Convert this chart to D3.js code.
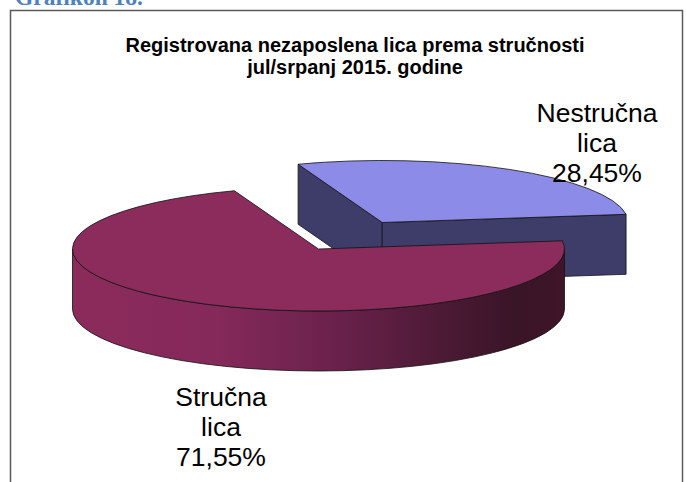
<!DOCTYPE html>
<html>

<head>
    <meta charset="utf-8">
    <title>Grafikon 18</title>

    <style>
        html,
        body {
            margin: 0;
            padding: 0;
            background-color: #ffffff;
            overflow: hidden;
        }
    </style>
</head>

<body>
    <div id="container"></div>

    <script src="https://d3js.org/d3.v7.min.js"></script>

    <script>
        // values
        var categories = ["Nestručna lica", "Stručna lica"];
        var shares = [28.45, 71.55];
        var shareLabels = ["28,45%", "71,55%"];
        var titleLines = ["Registrovana nezaposlena lica prema stručnosti", "jul/srpanj 2015. godine"];

        var width = 686, height = 482;

        // 3d pie geometry
        var cx = 318.5, cy = 249;
        var rx = 246, ry = 62, depth = 60;
        var explode = 0.5;
        var rotation = -20 * Math.PI / 180;

        var topColors = ["#8c8ce8", "#8c2c5c"];
        var sideColors = ["#3e3d69", "url(#magSide)"];

        var svg = d3.select("div#container")
            .append("svg")
            .attr("width", width)
            .attr("height", height)
            .style("display", "block")
            .style("font-family", "'Liberation Sans', Arial, sans-serif");

        var defs = svg.append("defs");
        var grad = defs.append("linearGradient")
            .attr("id", "magSide")
            .attr("gradientUnits", "userSpaceOnUse")
            .attr("x1", cx - rx).attr("y1", 0)
            .attr("x2", cx + rx).attr("y2", 0);
        [[0, "#8b2b5b"], [0.3, "#84295a"], [0.55, "#68214a"], [0.75, "#4c1a35"], [0.9, "#3a1427"], [1, "#3e1529"]]
            .forEach(function (s) {
                grad.append("stop").attr("offset", s[0]).attr("stop-color", s[1]);
            });

        // heading above the frame (cut off at the top in the original too)
        svg.append("text")
            .attr("x", 15)
            .attr("y", 5)
            .attr("font-family", "'Liberation Serif', 'DejaVu Serif', serif")
            .attr("font-weight", "bold")
            .attr("font-size", 23.5)
            .attr("fill", "#4f81bd")
            .text("Grafikon 18.");

        // frame
        svg.append("rect")
            .attr("x", 10.5)
            .attr("y", 10.5)
            .attr("width", 672)
            .attr("height", 500)
            .attr("fill", "none")
            .attr("stroke", "#5a5a5a")
            .attr("stroke-width", 1.5);

        svg.append("g")
            .selectAll("text")
            .data(titleLines)
            .enter().append("text")
            .attr("x", 355)
            .attr("y", function (d, i) { return 52 + i * 22; })
            .attr("text-anchor", "middle")
            .attr("font-weight", "bold")
            .attr("font-size", 20)
            .attr("fill", "#000")
            .text(function (d) { return d; });

        var pie = d3.pie()
            .sort(null)
            .startAngle(rotation)
            .endAngle(rotation + 2 * Math.PI);

        var arcs = pie(shares);

        function pt(ox, oy, a, dy) {
            return [ox + rx * Math.sin(a), oy - ry * Math.cos(a) + (dy || 0)];
        }

        function topPath(ox, oy, a0, a1) {
            var p0 = pt(ox, oy, a0), p1 = pt(ox, oy, a1);
            var large = (a1 - a0) > Math.PI ? 1 : 0;
            return "M" + ox + "," + oy + "L" + p0 + "A" + rx + "," + ry + " 0 " + large + " 1 " + p1 + "Z";
        }

        function radialPath(ox, oy, a) {
            var p = pt(ox, oy, a), q = pt(ox, oy, a, depth);
            return "M" + ox + "," + oy + "L" + p + "L" + q + "L" + ox + "," + (oy + depth) + "Z";
        }

        function curvedPath(ox, oy, a0, a1) {
            var s = Math.max(a0, Math.PI / 2), e = Math.min(a1, 3 * Math.PI / 2);
            if (e <= s) return null;
            var p0 = pt(ox, oy, s), p1 = pt(ox, oy, e);
            var q0 = pt(ox, oy, s, depth), q1 = pt(ox, oy, e, depth);
            var large = (e - s) > Math.PI ? 1 : 0;
            return "M" + p0 + "A" + rx + "," + ry + " 0 " + large + " 1 " + p1 +
                "L" + q1 + "A" + rx + "," + ry + " 0 " + large + " 0 " + q0 + "Z";
        }

        var g = svg.append("g");

        // exploded slice first (it sits behind), then the big one
        arcs.forEach(function (d, i) {
            var ox = cx, oy = cy;
            if (i === 0) {
                var mid = (d.startAngle + d.endAngle) / 2;
                ox = cx + explode * rx * Math.sin(mid);
                oy = cy - explode * ry * Math.cos(mid);
            }
            var slice = g.append("g").attr("class", "slice");

            // radial faces that point towards the viewer
            [[d.startAngle, -1], [d.endAngle, 1]].forEach(function (e) {
                var normal = e[0] + e[1] * Math.PI / 2;
                if (Math.cos(normal) < 0) {
                    slice.append("path")
                        .attr("d", radialPath(ox, oy, e[0]))
                        .attr("fill", sideColors[i])
                        .attr("stroke", "#111")
                        .attr("stroke-width", 0.8)
                        .attr("stroke-linejoin", "round");
                }
            });

            var cp = curvedPath(ox, oy, d.startAngle, d.endAngle);
            if (cp) {
                slice.append("path")
                    .attr("d", cp)
                    .attr("fill", sideColors[i])
                    .attr("stroke", "#111")
                    .attr("stroke-width", 0.8);
            }

            slice.append("path")
                .attr("d", topPath(ox, oy, d.startAngle, d.endAngle))
                .attr("fill", topColors[i])
                .attr("stroke", "#111")
                .attr("stroke-width", 0.8)
                .attr("stroke-linejoin", "round");
        });

        // data labels
        var labelPos = [[597, 122], [221, 406]];
        arcs.forEach(function (d, i) {
            var words = categories[i].split(" ").concat([shareLabels[i]]);
            svg.append("g")
                .selectAll("text")
                .data(words)
                .enter().append("text")
                .attr("x", labelPos[i][0])
                .attr("y", function (w, j) { return labelPos[i][1] + j * 30; })
                .attr("text-anchor", "middle")
                .attr("font-size", 26.5)
                .attr("fill", "#000")
                .text(function (w) { return w; });
        });
    </script>
</body>

</html>
